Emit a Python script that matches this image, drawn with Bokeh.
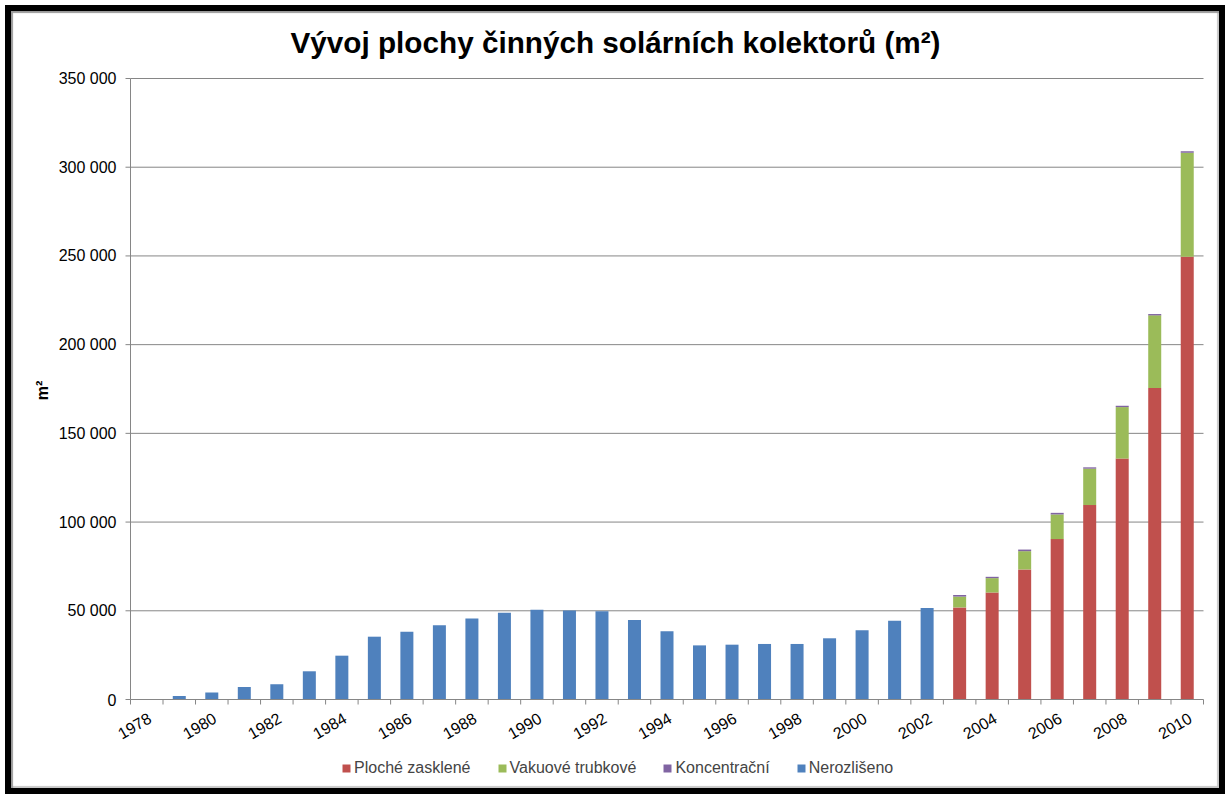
import math
from bokeh.plotting import figure
from bokeh.models import Range1d, ColumnDataSource, Legend, LegendItem, Label
from bokeh.core.properties import value
from bokeh.embed import file_html
from bokeh.resources import INLINE

# ---- data ----
years = list(range(1978, 2011))
nerozliseno = [0, 2000, 3900, 7100, 8600, 15900, 24700, 35400, 38200, 41800,
               45700, 48900, 50600, 50200, 49800, 44800, 38400, 30500, 30900,
               31300, 31300, 34500, 39000, 44400, 51500,
               0, 0, 0, 0, 0, 0, 0, 0]
ploche = [0] * 25 + [51900, 60300, 73300, 90400, 109600, 135800, 175500, 249600]
vakuove = [0] * 25 + [6100, 8100, 10300, 13900, 20500, 29000, 41000, 58500]
koncentracni = [0] * 25 + [900, 750, 900, 900, 750, 750, 750, 950]

series_keys = ["ploche", "vakuove", "koncentracni", "nerozliseno"]
series_names = ["Ploché zasklené", "Vakuové trubkové", "Koncentrační", "Nerozlišeno"]
series_colors = ["#C0504D", "#9BBB59", "#8064A2", "#4F81BD"]

x_label_years = list(range(1978, 2011, 2))
y_ticks = [0, 50000, 100000, 150000, 200000, 250000, 300000, 350000]
y_labels = ["0", "50 000", "100 000", "150 000", "200 000", "250 000", "300 000", "350 000"]

title_text = "Vývoj plochy činných solárních kolektorů (m²)"
y_axis_title = "m²"

# ---- layout (page pixels) ----
FONT = "Liberation Sans"
GREY = "#868686"
CANVAS_W, CANVAS_H = 1220, 789
ORIGIN = 11                      # canvas top-left on the page
AX_LEFT, AX_RIGHT = 130, 1203    # plot area left / right
AX_TOP, AX_ZERO = 78, 699        # y = max / y = 0
X0, X1 = years[0] - 0.5, years[-1] + 0.5
Y_MAX = y_ticks[-1]
PPX = (AX_RIGHT - AX_LEFT) / (X1 - X0)
K = (AX_ZERO - AX_TOP) / Y_MAX


def dx(px):
    return X0 + (px - AX_LEFT) / PPX


def dy(py):
    return (AX_ZERO - py) / K


source = ColumnDataSource(dict(year=years, ploche=ploche, vakuove=vakuove,
                               koncentracni=koncentracni, nerozliseno=nerozliseno))

p = figure(width=CANVAS_W, height=CANVAS_H, output_backend="svg", toolbar_location=None,
           title=None, x_axis_location=None, y_axis_location=None,
           x_range=Range1d(dx(ORIGIN), dx(ORIGIN + CANVAS_W)),
           y_range=Range1d(dy(ORIGIN + CANVAS_H), dy(ORIGIN)),
           min_border=0)
p.min_border_left = p.min_border_right = p.min_border_top = p.min_border_bottom = 0
p.styles = {"margin": "5px 0 0 5px",
            "border": "6px solid black",
            "overflow": "hidden",
            "box-shadow": "inset 2px 2px 1px #9a9a9a, inset -2px -2px 1px #c8c8c8"}
p.border_fill_color = None
p.background_fill_color = None
p.outline_line_color = None
p.grid.visible = False

# gridlines
grid_vals = y_ticks[1:]
p.segment(x0=[X0] * len(grid_vals), y0=grid_vals, x1=[X1] * len(grid_vals), y1=grid_vals,
          line_color=GREY, line_width=1)

# bars
renderers = p.vbar_stack(series_keys, x="year", width=0.4, source=source,
                         color=series_colors, line_color=None)

# x axis
p.segment(x0=[X0], y0=[0], x1=[X1], y1=[0], line_color=GREY, line_width=1)
bounds = [y - 0.5 for y in years] + [years[-1] + 0.5]
p.segment(x0=bounds, y0=[0] * len(bounds), x1=bounds, y1=[-5 / K] * len(bounds),
          line_color=GREY, line_width=1)
p.text(x=x_label_years, y=[0] * len(x_label_years), text=[str(v) for v in x_label_years],
       angle=math.radians(30), text_align="right", text_baseline="top",
       y_offset=12, x_offset=0, text_font=value(FONT), text_font_size="16px",
       text_color="black")

# y axis
p.segment(x0=[X0], y0=[0], x1=[X0], y1=[Y_MAX], line_color=GREY, line_width=1)
p.segment(x0=[X0 - 5 / PPX] * len(y_ticks), y0=y_ticks, x1=[X0] * len(y_ticks), y1=y_ticks,
          line_color=GREY, line_width=1)
p.text(x=[X0] * len(y_ticks), y=y_ticks, text=y_labels, x_offset=-14,
       text_align="right", text_baseline="middle", text_font=value(FONT),
       text_font_size="16px", text_color="black")
p.text(x=[dx(42)], y=[dy(390)], text=[y_axis_title], angle=math.pi / 2,
       text_align="center", text_baseline="middle", text_font=value(FONT),
       text_font_style="bold", text_font_size="16px", text_color="black")

# title
p.add_layout(Label(x=dx(615), y=dy(42), text=title_text,
                   text_align="center", text_baseline="alphabetic", text_font=FONT,
                   text_font_style="bold", text_font_size="29.7px", text_color="black"))

# legend
legend = Legend(items=[LegendItem(label=n, renderers=[r]) for n, r in zip(series_names, renderers)],
                orientation="horizontal",
                location=(341 - ORIGIN, ORIGIN + CANVAS_H - 777.5))
legend.glyph_width = 10
legend.glyph_height = 10
legend.label_standoff = 3
legend.spacing = 26
legend.padding = 0
legend.margin = 0
legend.border_line_color = None
legend.background_fill_alpha = 0
legend.label_text_font = FONT
legend.label_text_font_size = "16px"
legend.label_height = 19
p.add_layout(legend, "center")

open("out.html", "w").write(file_html(p, INLINE))
